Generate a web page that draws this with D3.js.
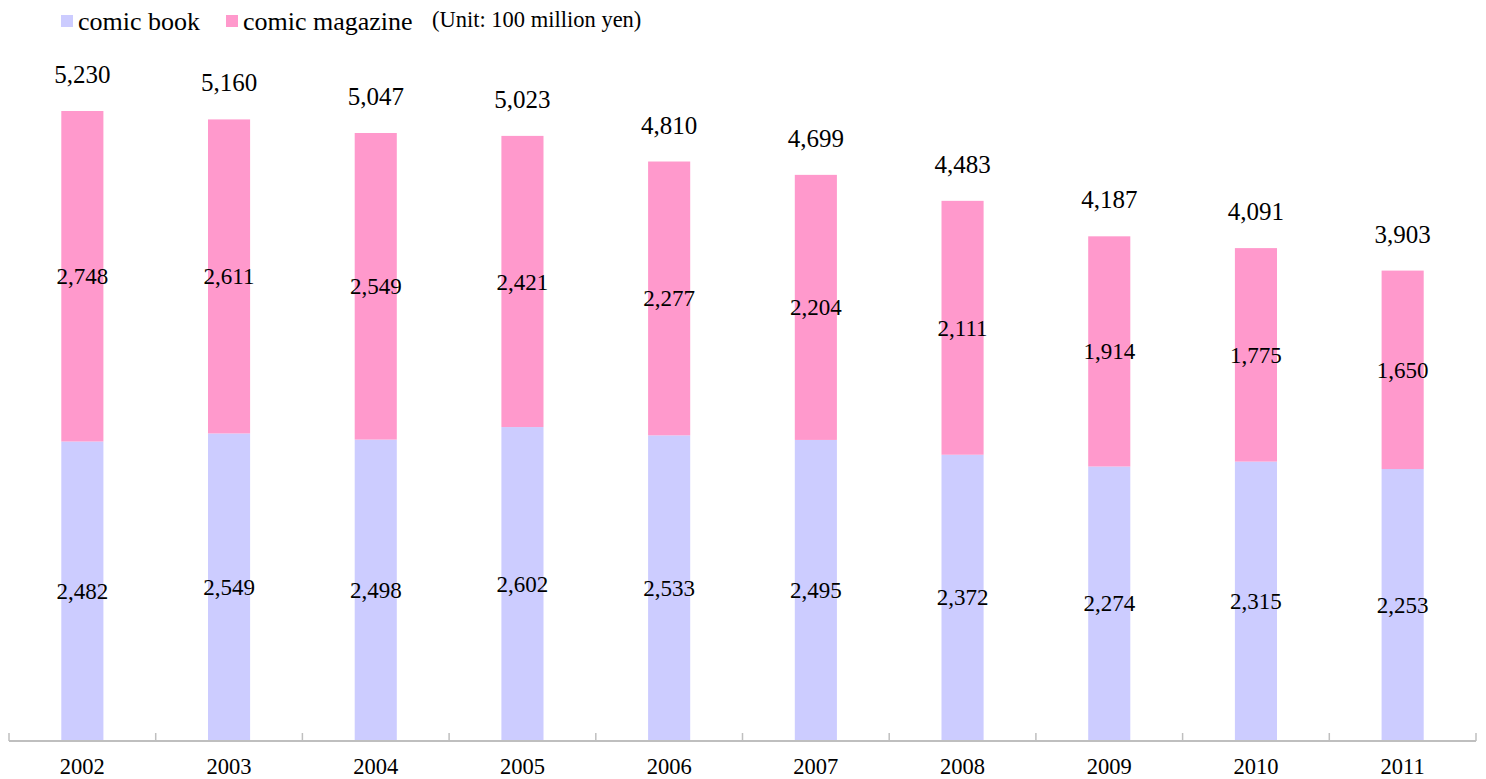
<!DOCTYPE html>
<html>
<head>
<meta charset="utf-8">
<script src="https://cdn.jsdelivr.net/npm/d3@7"></script>
<style>
  html, body { margin: 0; padding: 0; background: #fff; }
  svg text { font-family: 'Liberation Serif', Tinos, 'Times New Roman', Times, serif; }
</style>
</head>
<body>
<svg id="chart" width="1486" height="779"></svg>
<script>
// Comic sales, unit: 100 million yen
const years = ["2002", "2003", "2004", "2005", "2006", "2007", "2008", "2009", "2010", "2011"];
const comicBook = [2482, 2549, 2498, 2602, 2533, 2495, 2372, 2274, 2315, 2253];
const comicMagazine = [2748, 2611, 2549, 2421, 2277, 2204, 2111, 1914, 1775, 1650];
const totals = [5230, 5160, 5047, 5023, 4810, 4699, 4483, 4187, 4091, 3903];
const seriesNames = ["comic book", "comic magazine"];
const seriesColors = ["#ccccff", "#ff99cc"];
const unitNote = "(Unit: 100 million yen)";

const serif = "'Liberation Serif', Tinos, 'Times New Roman', Times, serif";
const svg = d3.select("#chart").attr("font-family", serif);
const fmt = d3.format(",");

const left = 9, right = 1476, baseY = 740;
const x = d3.scaleBand().domain(years).range([left, right]).padding(0);
const y = d3.scaleLinear().domain([0, 6000]).range([baseY, baseY - 6000 * (629 / 5230)]);
const barW = x.bandwidth() * 0.287;

const rows = years.map((yr, i) => ({ year: yr, book: comicBook[i], magazine: comicMagazine[i], total: totals[i] }));
const stacked = d3.stack().keys(["book", "magazine"])(rows);

// stacked bars
const layers = svg.selectAll("g.layer").data(stacked).join("g")
  .attr("class", "layer")
  .attr("fill", (d, i) => seriesColors[i]);

layers.selectAll("rect").data(d => d).join("rect")
  .attr("x", d => x(d.data.year) + (x.bandwidth() - barW) / 2)
  .attr("width", barW)
  .attr("y", d => y(d[1]))
  .attr("height", d => y(d[0]) - y(d[1]));

// segment value labels
const segLabels = svg.append("g");
stacked.forEach(layer => {
  segLabels.append("g").selectAll("text").data(layer).join("text")
    .attr("x", d => x(d.data.year) + x.bandwidth() / 2)
    .attr("y", d => (y(d[0]) + y(d[1])) / 2)
    .attr("dy", "0.35em")
    .attr("text-anchor", "middle")
    .attr("font-family", serif)
    .attr("font-size", 23)
    .attr("fill", "#000")
    .text(d => fmt(d[1] - d[0]));
});

// totals above bars
svg.append("g").selectAll("text").data(rows).join("text")
  .attr("x", d => x(d.year) + x.bandwidth() / 2)
  .attr("y", d => y(d.total) - 28)
  .attr("text-anchor", "middle")
  .attr("font-family", serif)
  .attr("font-size", 25)
  .attr("fill", "#000")
  .text(d => fmt(d.total));

// category axis
const axis = svg.append("g");
axis.append("line")
  .attr("x1", left).attr("x2", right)
  .attr("y1", baseY + 1).attr("y2", baseY + 1)
  .attr("stroke", "#bfbfbf").attr("stroke-width", 2);
const tickPos = years.map(yr => x(yr)).concat([right]);
axis.selectAll("line.tick").data(tickPos).join("line")
  .attr("class", "tick")
  .attr("x1", d => d).attr("x2", d => d)
  .attr("y1", baseY - 7).attr("y2", baseY + 1)
  .attr("stroke", "#bfbfbf").attr("stroke-width", 1.5);
axis.selectAll("text").data(years).join("text")
  .attr("x", d => x(d) + x.bandwidth() / 2)
  .attr("y", baseY + 34)
  .attr("text-anchor", "middle")
  .attr("font-family", serif)
  .attr("font-size", 22.5)
  .attr("fill", "#000")
  .text(d => d);

// legend
const legend = svg.append("g");
const legendX = [61, 226];
seriesNames.forEach((name, i) => {
  legend.append("rect")
    .attr("x", legendX[i]).attr("y", 15)
    .attr("width", 12).attr("height", 12)
    .attr("fill", seriesColors[i]);
  legend.append("text")
    .attr("x", legendX[i] + 17).attr("y", 30)
    .attr("font-family", serif)
    .attr("font-size", 26)
    .attr("fill", "#000")
    .text(name);
});
legend.append("text")
  .attr("x", 432).attr("y", 27)
  .attr("font-family", serif)
  .attr("font-size", 22.5)
  .attr("fill", "#000")
  .text(unitNote);
</script>
</body>
</html>
